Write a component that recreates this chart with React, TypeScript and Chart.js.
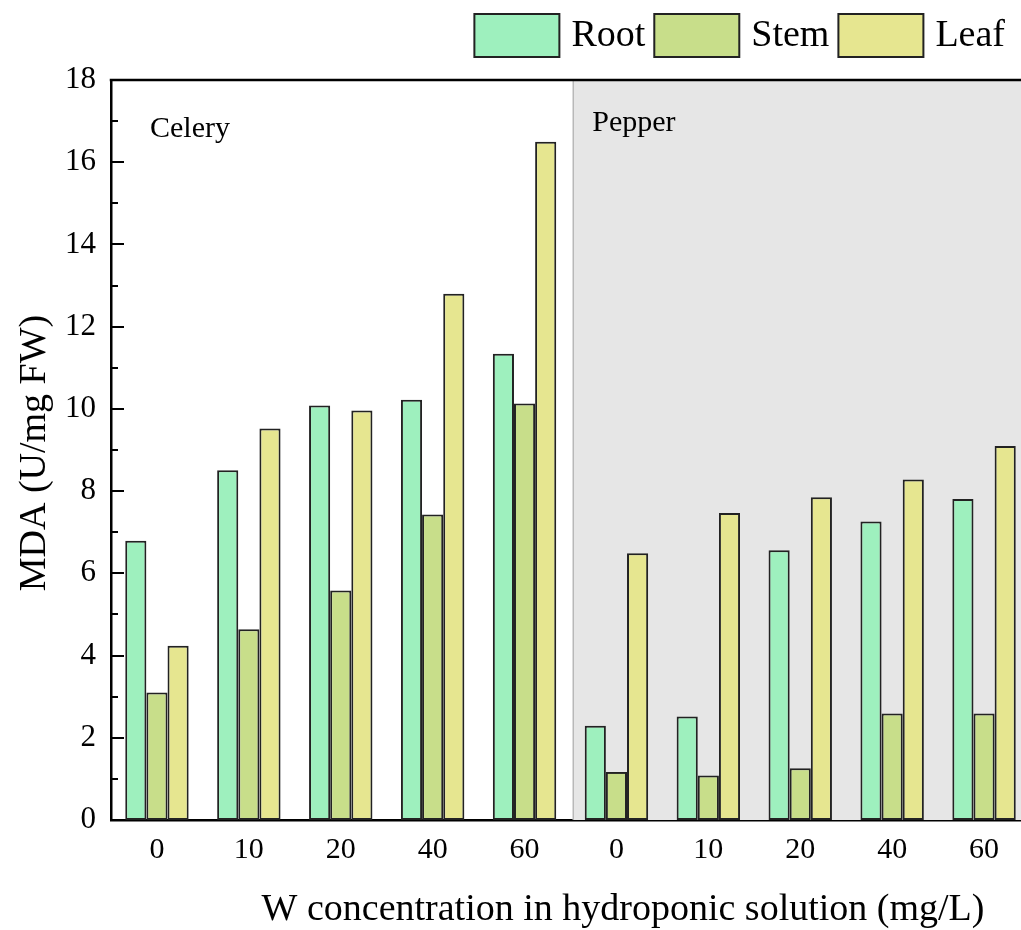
import React, { useEffect, useRef } from 'react';
import { Chart, registerables } from 'chart.js';

Chart.register(...registerables);

const categories = ['0', '10', '20', '40', '60', '0', '10', '20', '40', '60'];
const groupLabels = ['Celery', 'Pepper'];
const seriesNames = ['Root', 'Stem', 'Leaf'];
const rootValues = [6.79, 8.51, 10.08, 10.22, 11.34, 2.29, 2.52, 6.56, 7.26, 7.81];
const stemValues = [3.1, 4.64, 5.58, 7.43, 10.13, 1.17, 1.08, 1.26, 2.59, 2.59];
const leafValues = [4.24, 9.52, 9.96, 12.8, 16.5, 6.49, 7.47, 7.85, 8.28, 9.1];
const yMin = 0;
const yMax = 18;
const yStep = 2;
const xTitle = 'W concentration in hydroponic solution (mg/L)';
const yTitle = 'MDA (U/mg FW)';

const colors = ['#9EF0BE', '#C8DE8A', '#E6E690'];
const FONT = "'Liberation Serif', 'Times New Roman', serif";
const SPLIT = 4.53;

const decor = {
  id: 'decor',
  beforeDatasetsDraw(chart: any) {
    const { ctx, chartArea: a, scales } = chart;
    const sx = scales.x.getPixelForValue(SPLIT);
    ctx.save();
    ctx.fillStyle = '#e6e6e6';
    ctx.fillRect(sx, a.top, a.right - sx, a.bottom - a.top);
    ctx.strokeStyle = '#b8b8b8';
    ctx.lineWidth = 1.5;
    ctx.beginPath();
    ctx.moveTo(sx, a.top);
    ctx.lineTo(sx, a.bottom);
    ctx.stroke();
    ctx.restore();
  },
  afterDraw(chart: any) {
    const { ctx, chartArea: a, scales } = chart;
    const y = scales.y;
    const sx = scales.x.getPixelForValue(SPLIT);
    ctx.save();
    // inward ticks
    ctx.strokeStyle = '#000';
    ctx.lineWidth = 2;
    for (let v = yMin; v <= yMax; v += yStep / 2) {
      const py = Math.round(y.getPixelForValue(v));
      const len = v % yStep === 0 ? 13 : 7;
      ctx.beginPath();
      ctx.moveTo(a.left, py);
      ctx.lineTo(a.left + len, py);
      ctx.stroke();
    }
    // top frame
    ctx.lineWidth = 2.5;
    ctx.beginPath();
    ctx.moveTo(a.left - 1.25, a.top);
    ctx.lineTo(a.right, a.top);
    ctx.stroke();

    // group labels
    ctx.fillStyle = '#000';
    ctx.font = `30px ${FONT}`;
    ctx.textAlign = 'left';
    ctx.textBaseline = 'alphabetic';
    ctx.fillText(groupLabels[0], a.left + 39, 137);
    ctx.fillText(groupLabels[1], sx + 19, 131);

    // legend (right-aligned)
    const boxW = 85;
    const boxH = 43;
    const boxTop = 14;
    const gapBox = 12;
    const gapItem = 9;
    ctx.font = `38px ${FONT}`;
    ctx.textBaseline = 'middle';
    const labels = chart.data.datasets.map((d: any) => d.label);
    const widths = labels.map((l: string) => ctx.measureText(l).width);
    const total = widths.reduce((s: number, w: number) => s + w + boxW + gapBox, 0) + gapItem * (labels.length - 1);
    let lx = 1005 - total;
    labels.forEach((lab: string, i: number) => {
      ctx.fillStyle = colors[i];
      ctx.fillRect(lx, boxTop, boxW, boxH);
      ctx.strokeStyle = '#222';
      ctx.lineWidth = 2;
      ctx.strokeRect(lx, boxTop, boxW, boxH);
      ctx.fillStyle = '#000';
      ctx.fillText(lab, lx + boxW + gapBox, boxTop + boxH / 2 + 1);
      lx += boxW + gapBox + widths[i] + gapItem;
    });

    // axis titles
    ctx.font = `38px ${FONT}`;
    ctx.textAlign = 'center';
    ctx.textBaseline = 'middle';
    ctx.fillText(xTitle, 623, 910);
    ctx.save();
    ctx.translate(35, 453);
    ctx.rotate(-Math.PI / 2);
    ctx.fillText(yTitle, 0, 0);
    ctx.restore();
    ctx.restore();
  },
};

export default function App() {
  const ref = useRef<HTMLCanvasElement>(null);
  useEffect(() => {
    if (!ref.current) return;
    const chart = new Chart(ref.current, {
      type: 'bar',
      data: {
        labels: categories,
        datasets: [rootValues, stemValues, leafValues].map((vals, i) => ({
          label: seriesNames[i],
          data: vals,
          backgroundColor: colors[i],
          borderColor: '#222',
          borderWidth: 2,
          borderSkipped: false,
          barPercentage: 1,
          categoryPercentage: 0.69,
        })),
      },
      options: {
        responsive: false,
        animation: false,
        layout: { padding: { left: 0, top: 80, right: 10, bottom: 0 } },
        plugins: {
          legend: { display: false },
          tooltip: { enabled: false },
        },
        scales: {
          x: {
            grid: { display: false, drawTicks: false },
            border: { display: true, color: '#000', width: 2.5 },
            ticks: { color: '#000', font: { family: FONT, size: 30 }, padding: 12, maxRotation: 0, autoSkip: false },
            afterFit: (s: any) => { s.height = 110; },
          },
          y: {
            min: yMin,
            max: yMax,
            grid: { display: false, drawTicks: false },
            border: { display: true, color: '#000', width: 2.5 },
            ticks: { stepSize: yStep, color: '#000', font: { family: FONT, size: 31 }, padding: 15 },
            afterFit: (s: any) => { s.width = 111; },
          },
        },
      },
      plugins: [decor],
    });
    return () => chart.destroy();
  }, []);
  return (
    <div style={{ position: 'absolute', left: 0, top: 0, width: 1021, height: 930, overflow: 'hidden', background: '#fff' }}>
      <canvas ref={ref} width={1040} height={930} style={{ width: 1040, height: 930, display: 'block' }} />
    </div>
  );
}
